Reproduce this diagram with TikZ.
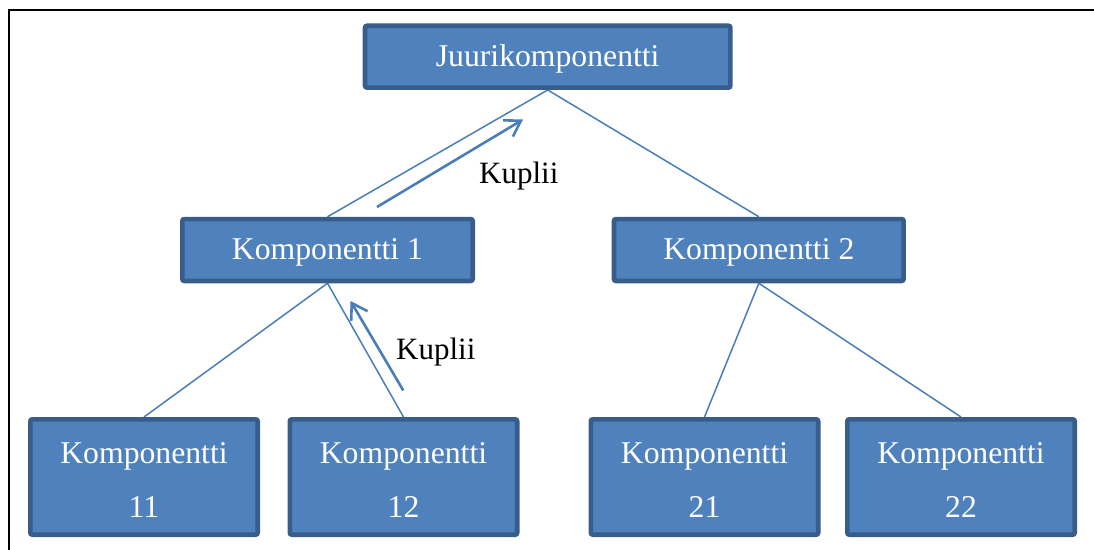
\documentclass[tikz,border=0pt]{standalone}
\usepackage{fontspec}
\setmainfont{Liberation Serif}
\usetikzlibrary{arrows.meta,backgrounds}
\definecolor{boxfill}{HTML}{4F81BD}
\definecolor{boxline}{HTML}{385D8A}
\definecolor{linkblue}{HTML}{4A7EBB}
\begin{document}
\begin{tikzpicture}[x=1pt,y=-1pt,
  comp/.style={draw=boxline, fill=boxfill, line width=4.7pt, rounded corners=2pt,
    inner sep=0pt, text=white, font=\fontsize{31.7}{54}\selectfont, align=center},
  onerow/.style={comp, minimum height=61.8pt, text height=21.6pt, text depth=2pt},
  tworow/.style={comp, minimum width=227.3pt, minimum height=115.3pt, text height=80.6pt, text depth=0pt},
  link/.style={draw=linkblue, line width=1.5pt},
  bubble/.style={draw=linkblue, line width=2.6pt, -{Straight Barb[length=15pt,width=19pt]}},
  note/.style={anchor=base west, inner sep=0pt, font=\fontsize{31}{36}\selectfont}]
  \useasboundingbox (0,0) rectangle (1094,549);

  % outer frame (only its top and left sides fall inside the page)
  \draw[black, line width=2pt] (1110,9.5) -| (8.8,560);

  % component tree
  \node[onerow, minimum width=365.3pt] (root) at (547.7,56.7) {Juurikomponentti};
  \node[onerow, minimum width=290.3pt] (k1) at (327.5,250) {Komponentti 1};
  \node[onerow, minimum width=289.6pt] (k2) at (758.8,250) {Komponentti 2};
  \node[tworow] (k11) at (144,477) {Komponentti\\11};
  \node[tworow] (k12) at (403.5,477) {Komponentti\\12};
  \node[tworow] (k21) at (704.5,477) {Komponentti\\21};
  \node[tworow] (k22) at (961,477) {Komponentti\\22};

  \begin{scope}[on background layer]
    \draw[link] (root.south) -- (k1.north);
    \draw[link] (root.south) -- (k2.north);
    \draw[link] (k1.south) -- (k11.north);
    \draw[link] (k1.south) -- (k12.north);
    \draw[link] (k2.south) -- (k21.north);
    \draw[link] (k2.south) -- (k22.north);
  \end{scope}

  % event bubbling arrows
  \coordinate (b1s) at (377,207);
  \coordinate (b1e) at (523,119.5);
  \coordinate (b2s) at (403.3,390.5);
  \coordinate (b2e) at (350.5,301);
  \draw[bubble] (b1s) -- (b1e);
  \draw[bubble] (b2s) -- (b2e);
  \node[note] (n1) at (479,183) {Kuplii};
  \node[note] (n2) at (396,359) {Kuplii};
\end{tikzpicture}
\end{document}
